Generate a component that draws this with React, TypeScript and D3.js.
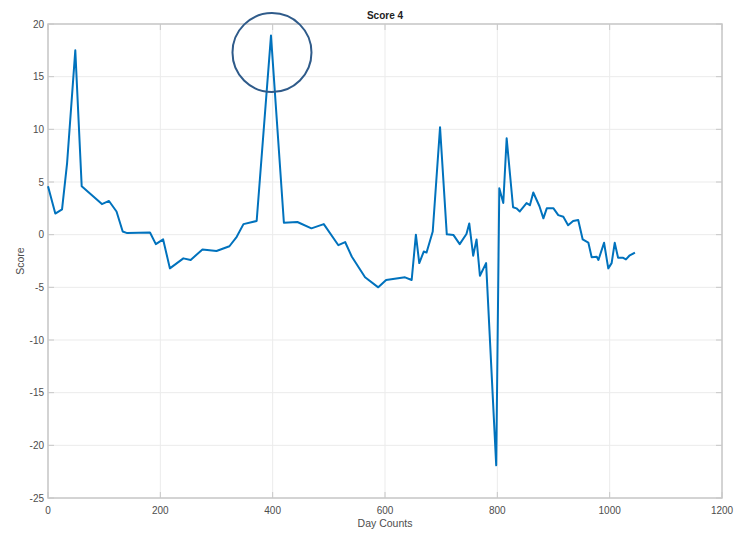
import React from "react";
import * as d3 from "d3";

const dayCounts = [0, 13, 25, 34, 48.6, 60, 96, 108.6, 122, 133, 141, 181.6, 192, 205, 217, 241, 254, 275, 300, 323, 336, 348, 371.5, 397, 420, 444, 469, 491, 517, 529, 541, 564.5, 588, 602, 635.6, 647.5, 655, 661, 669, 674, 685, 698, 710, 722, 733, 745, 750, 757, 763, 769, 780, 798, 803.5, 810.6, 816.6, 828, 834, 840, 852, 858, 864, 875, 882, 888, 900, 908.5, 917.5, 926, 935, 944, 952, 962, 968, 977, 980, 990, 997.5, 1003.5, 1009, 1015, 1024, 1029, 1035, 1045];
const scores = [4.6, 2.0, 2.4, 6.8, 17.5, 4.6, 2.9, 3.2, 2.2, 0.3, 0.15, 0.2, -0.9, -0.45, -3.2, -2.25, -2.4, -1.4, -1.55, -1.1, -0.2, 1.0, 1.3, 18.9, 1.13, 1.2, 0.6, 1.0, -1.0, -0.7, -2.1, -4.05, -5.0, -4.3, -4.05, -4.3, 0.0, -2.7, -1.6, -1.7, 0.3, 10.2, 0.03, -0.04, -0.9, 0.06, 1.07, -2.0, -0.45, -3.9, -2.7, -21.9, 4.4, 3.0, 9.15, 2.6, 2.5, 2.2, 3.0, 2.8, 4.0, 2.7, 1.55, 2.5, 2.5, 1.86, 1.7, 0.9, 1.3, 1.4, -0.45, -0.75, -2.15, -2.1, -2.4, -0.77, -3.2, -2.7, -0.77, -2.2, -2.2, -2.35, -2.0, -1.7];
const xTicks = [0, 200, 400, 600, 800, 1000, 1200];
const yTicks = [20, 15, 10, 5, 0, -5, -10, -15, -20, -25];
const highlight = { x: 397, y: 18.9 };

export default function App() {
  const W = 736, H = 534;
  const left = 48, right = 722, top = 24, bottom = 498;
  const x = d3.scaleLinear().domain([0, 1200]).range([left, right]);
  const y = d3.scaleLinear().domain([-25, 20]).range([bottom, top]);
  const line = d3.line<number>().x((_, i) => x(dayCounts[i])).y((d) => y(d));
  const font = "'Liberation Sans', Arial, sans-serif";
  const tickColor = "#4d4d4d";
  return (
    <svg width={W} height={H} style={{ position: "absolute", left: 0, top: 0, background: "#fff" }}>
      {xTicks.map((t) => (
        <line key={"gx" + t} x1={x(t)} x2={x(t)} y1={top} y2={bottom} stroke="#ebebeb" strokeWidth={1} />
      ))}
      {yTicks.map((t) => (
        <line key={"gy" + t} x1={left} x2={right} y1={y(t)} y2={y(t)} stroke="#ebebeb" strokeWidth={1} />
      ))}
      <rect x={left} y={top} width={right - left} height={bottom - top} fill="none" stroke="#c8c8c8" strokeWidth={1.5} />
      {xTicks.map((t) => (
        <g key={"tx" + t}>
          <line x1={x(t)} x2={x(t)} y1={bottom} y2={bottom - 6} stroke="#c8c8c8" />
          <line x1={x(t)} x2={x(t)} y1={top} y2={top + 6} stroke="#c8c8c8" />
          <text x={x(t)} y={bottom + 16} textAnchor="middle" fontFamily={font} fontSize={10} fill={tickColor}>{t}</text>
        </g>
      ))}
      {yTicks.map((t) => (
        <g key={"ty" + t}>
          <line x1={left} x2={left + 6} y1={y(t)} y2={y(t)} stroke="#c8c8c8" />
          <line x1={right} x2={right - 6} y1={y(t)} y2={y(t)} stroke="#c8c8c8" />
          <text x={left - 4} y={y(t) + 3.5} textAnchor="end" fontFamily={font} fontSize={10} fill={tickColor}>{t}</text>
        </g>
      ))}
      <path d={line(scores) || ""} fill="none" stroke="#0072BD" strokeWidth={2} strokeLinejoin="round" />
      <circle cx={x(highlight.x) + 1} cy={y(highlight.y) + 17} r={39.5} fill="none" stroke="#2f5b8a" strokeWidth={2} />
      <text x={(left + right) / 2} y={19} textAnchor="middle" fontFamily={font} fontSize={10} fontWeight="bold" fill="#222">Score 4</text>
      <text x={(left + right) / 2} y={527} textAnchor="middle" fontFamily={font} fontSize={10.5} fill={tickColor}>Day Counts</text>
      <text transform={`translate(24,${(top + bottom) / 2}) rotate(-90)`} textAnchor="middle" fontFamily={font} fontSize={10.5} fill={tickColor}>Score</text>
    </svg>
  );
}
